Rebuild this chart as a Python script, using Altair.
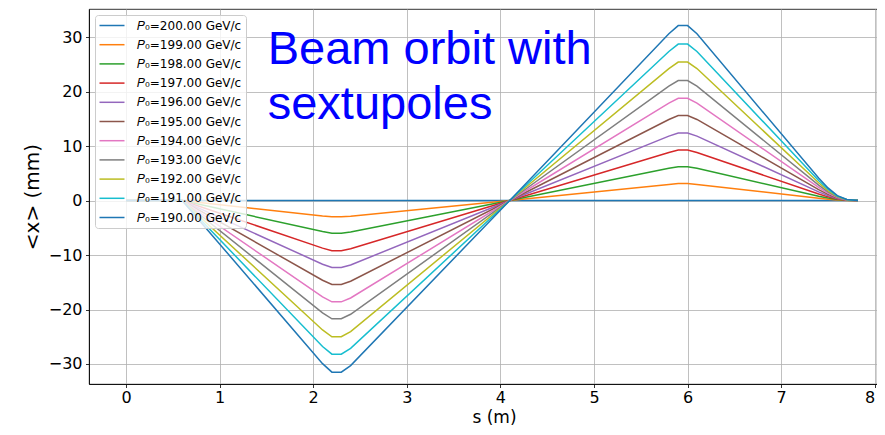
import altair as alt
import pandas as pd

# positions along the beamline (m)
s_knots = [0.0, 0.6, 2.1, 2.2, 2.3, 2.4, 4.1, 5.8, 5.9, 6.0, 6.1, 7.4, 7.5, 7.6, 7.7, 7.82]

# beam momenta (GeV/c) and legend labels
momenta = [200, 199, 198, 197, 196, 195, 194, 193, 192, 191, 190]
labels = ["𝑃₀=%.2f GeV/c" % p for p in momenta]

# mean horizontal orbit <x> (mm) for each momentum
x_200 = [0, 0, 0, 0, 0, 0, 0, 0, 0, 0, 0, 0, 0, 0, 0, 0]
x_199 = [0, 0, -2.85, -3.0, -3.0, -2.89, 0, 2.95, 3.1, 3.1, 2.95, 0.40, 0.22, 0.09, 0.02, 0]
x_198 = [0, 0, -5.7, -6.0, -6.0, -5.77, 0, 5.91, 6.2, 6.2, 5.91, 0.79, 0.45, 0.17, 0.04, 0]
x_197 = [0, 0, -8.74, -9.2, -9.2, -8.85, 0, 8.82, 9.25, 9.25, 8.82, 1.18, 0.67, 0.26, 0.06, 0]
x_196 = [0, 0, -11.69, -12.3, -12.3, -11.83, 0, 11.82, 12.4, 12.4, 11.82, 1.59, 0.89, 0.35, 0.07, 0]
x_195 = [0, 0, -14.63, -15.4, -15.4, -14.81, 0, 14.87, 15.6, 15.6, 14.87, 2.0, 1.12, 0.44, 0.09, 0]
x_194 = [0, 0, -17.67, -18.6, -18.6, -17.89, 0, 17.87, 18.75, 18.75, 17.87, 2.4, 1.35, 0.53, 0.11, 0]
x_193 = [0, 0, -20.62, -21.7, -21.7, -20.88, 0, 20.97, 22.0, 22.0, 20.97, 2.82, 1.58, 0.62, 0.13, 0]
x_192 = [0, 0, -23.75, -25.0, -25.0, -24.05, 0, 24.21, 25.4, 25.4, 24.21, 3.25, 1.83, 0.71, 0.15, 0]
x_191 = [0, 0, -26.79, -28.2, -28.2, -27.13, 0, 27.35, 28.7, 28.7, 27.35, 3.67, 2.07, 0.80, 0.17, 0]
x_190 = [0, 0, -29.93, -31.5, -31.5, -30.3, 0, 30.59, 32.1, 32.1, 30.59, 4.11, 2.31, 0.90, 0.19, 0]

series = [x_200, x_199, x_198, x_197, x_196, x_195, x_194, x_193, x_192, x_191, x_190]

colors = ["#1f77b4", "#ff7f0e", "#2ca02c", "#d62728", "#9467bd", "#8c564b",
          "#e377c2", "#7f7f7f", "#bcbd22", "#17becf", "#1f77b4"]

x_ticks = [0, 1, 2, 3, 4, 5, 6, 7, 8]
y_ticks = [-30, -20, -10, 0, 10, 20, 30]

title_lines = ["Beam orbit with", "sextupoles"]

rows = []
for k, (lab, vals) in enumerate(zip(labels, series)):
    for s, v in zip(s_knots, vals):
        rows.append({"s": s, "x": v, "label": lab, "k": k})
df = pd.DataFrame(rows)

lines = alt.Chart(df).mark_line(strokeWidth=1.5).encode(
    x=alt.X("s:Q",
            scale=alt.Scale(domain=[-0.395, 8.0235], nice=False, zero=False),
            axis=alt.Axis(values=x_ticks, title="s (m)", titlePadding=4,
                          titleFontSize=17, labelPadding=2, labelFlush=5,
                          titleX=405)),
    y=alt.Y("x:Q",
            scale=alt.Scale(domain=[-33.67, 35.14], nice=False, zero=False),
            axis=alt.Axis(values=y_ticks, title="<x> (mm)", titlePadding=6)),
    color=alt.Color("label:N",
                    scale=alt.Scale(domain=labels, range=colors),
                    legend=alt.Legend(
                        title=None, orient="none", legendX=6, legendY=6,
                        symbolType="M-2.5,0H2.5", symbolSize=100,
                        symbolStrokeWidth=1.5, symbolOffset=6.5,
                        labelFont="DejaVu Sans", labelFontSize=12,
                        labelColor="black", labelOffset=19,
                        rowPadding=7.2, padding=4.5,
                        fillColor="rgba(255,255,255,0.8)",
                        strokeColor="#cccccc", cornerRadius=3)),
    order=alt.Order("s:Q"),
)

tdf1 = pd.DataFrame({"t": [title_lines[0]]})
tdf2 = pd.DataFrame({"t": [title_lines[1]]})
t1 = alt.Chart(tdf1).mark_text(align="left", baseline="alphabetic", font="Liberation Sans",
                               fontSize=47, color="#0000ff").encode(
    x=alt.value(178.7), y=alt.value(55), text="t:N")
t2 = alt.Chart(tdf2).mark_text(align="left", baseline="alphabetic", font="Liberation Sans",
                               fontSize=47, color="#0000ff").encode(
    x=alt.value(178.7), y=alt.value(110), text="t:N")

chart = alt.layer(lines, t1, t2).properties(
    width=788, height=375,
    autosize=alt.AutoSizeParams(type="none"),
    padding={"left": 81, "top": 1, "right": 0, "bottom": 43},
).configure_axis(
    labelFont="DejaVu Sans", labelFontSize=16, labelColor="black",
    titleFont="DejaVu Sans", titleFontSize=20, titleFontWeight="normal", titleColor="black",
    gridColor="#b0b0b0", gridWidth=0.8,
    domainColor="black", domainWidth=0.8,
    tickColor="black", tickWidth=0.8, tickSize=3.5, labelPadding=3.5,
).configure_view(stroke="black", strokeWidth=0.8)

chart.save("out.html", embed_options={"renderer": "svg", "actions": False})
